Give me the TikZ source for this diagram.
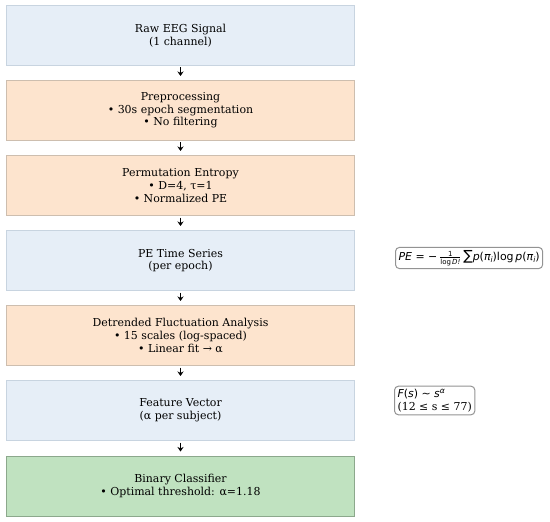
\documentclass[tikz,border=0pt]{standalone}
\usepackage{fontspec}
\setmainfont{DejaVu Serif}
\newfontfamily\dvs{DejaVu Sans}
\usetikzlibrary{arrows.meta}
\definecolor{bluefill}{RGB}{230,238,247}
\definecolor{blueedge}{RGB}{200,212,224}
\definecolor{orfill}{RGB}{253,228,206}
\definecolor{oredge}{RGB}{205,190,175}
\definecolor{grfill}{RGB}{192,226,192}
\definecolor{gredge}{RGB}{140,168,140}
\newcommand{\smallfr}{\fontsize{7}{7}\selectfont}
\newcommand{\subi}{\raisebox{-2bp}{\fontsize{7.5}{7.5}\selectfont\itshape i}}
\tikzset{
  stage/.style={draw, line width=1bp, minimum width=347bp, minimum height=60bp, anchor=north, align=center, inner sep=0pt,
    font=\fontsize{11}{12.7}\selectfont},
  bluebox/.style={stage, fill=bluefill, draw=blueedge},
  orbox/.style={stage, fill=orfill, draw=oredge},
  grbox/.style={stage, fill=grfill, draw=gredge},
  note/.style={draw=gray!85, fill=white, rounded corners=4bp, line width=1bp, inner sep=3bp, align=left,
    font=\fontsize{11}{12.7}\selectfont},
  flow/.style={-{Stealth[length=4.5bp,width=6bp]}, line width=1.3bp, black}
}
\begin{document}
\begin{tikzpicture}[x=1bp,y=-1bp]
\useasboundingbox (0,0) rectangle (550,522);
\node[bluebox] (b1) at (180.5,5) {Raw EEG Signal\\(1 channel)};
\node[orbox] (b2) at (180.5,80) {Preprocessing\\• 30s epoch segmentation\\• No filtering};
\node[orbox] (b3) at (180.5,155) {Permutation Entropy\\• D=4, τ=1\\• Normalized PE};
\node[bluebox] (b4) at (180.5,230) {PE Time Series\\(per epoch)};
\node[orbox] (b5) at (180.5,305) {Detrended Fluctuation Analysis\\• 15 scales (log-spaced)\\• Linear fit → α};
\node[bluebox] (b6) at (180.5,380) {Feature Vector\\(α per subject)};
\node[grbox] (b7) at (180.5,455.5) {Binary Classifier\\• Optimal threshold: α=1.18};
\foreach \a/\b in {b1/b2,b2/b3,b3/b4,b4/b5,b5/b6,b6/b7}
  \draw[flow] ([yshift=-1.5bp]\a.south) -- ([yshift=4bp]\b.north);
\node[note, anchor=west] (f1) at (395,258) {\dvs\itshape PE\upshape\ = −\,$\frac{\hbox{\dvs\smallfr 1}}{\hbox{\dvs\smallfr log\,\itshape D!}}$\,{\fontsize{14}{14}\selectfont∑}\itshape p\upshape(\itshape π\subi\upshape)log\,\itshape p\upshape(\itshape π\subi\upshape)};
\node[note, anchor=west] (f2) at (394,400.5) {{\dvs\itshape F\upshape(\itshape s\upshape) ∼ \itshape s\textsuperscript{α}}\\(12 ≤ s ≤ 77)};
\end{tikzpicture}
\end{document}
